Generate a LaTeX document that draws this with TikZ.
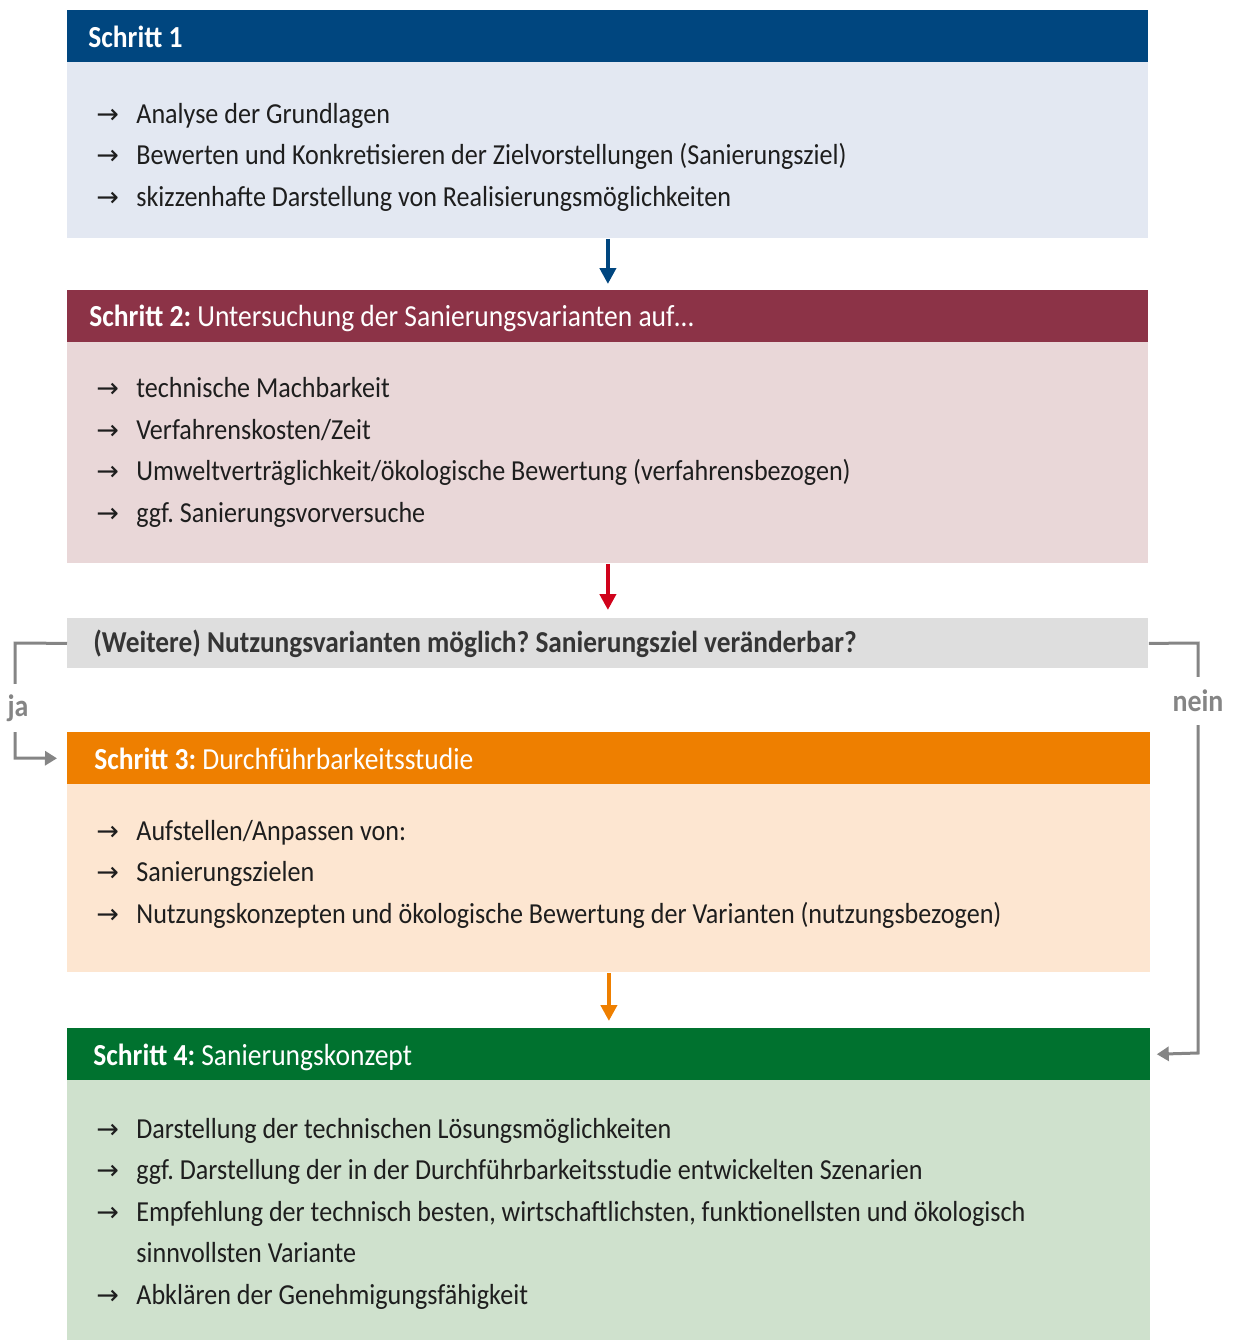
\documentclass[tikz,border=0pt]{standalone}
\usepackage{fontspec}
\setmainfont{Carlito}[FakeStretch=0.9]
\newfontfamily\arrowfont{DejaVu Sans}
\usetikzlibrary{arrows.meta}
\definecolor{blue_head}{HTML}{00467F}
\definecolor{blue_body}{HTML}{E3E8F2}
\definecolor{red_head}{HTML}{8C3347}
\definecolor{red_body}{HTML}{E9D7D8}
\definecolor{grey_bar}{HTML}{DEDEDE}
\definecolor{orange_head}{HTML}{EE7F00}
\definecolor{orange_body}{HTML}{FDE6D1}
\definecolor{green_head}{HTML}{00722F}
\definecolor{green_body}{HTML}{CFE1CD}
\definecolor{red_arrow}{HTML}{D0021B}
\definecolor{conn_grey}{HTML}{858585}
\definecolor{txt}{HTML}{1E1E1E}
\frenchspacing

\begin{document}
\begin{tikzpicture}[x=0.5pt, y=-0.5pt,
	box/.style={anchor=north west, inner sep=0pt, minimum width=540.5pt},
	head/.style={box, minimum height=26pt},
	headtext/.style={anchor=base west, inner sep=0pt, text=white, font=\fontsize{15.3}{18}\selectfont},
	item/.style={anchor=base west, inner sep=0pt, text=txt, font=\fontsize{14.5}{18}\selectfont},
	bullet/.style={item, font=\arrowfont\fontsize{13.5}{14}\selectfont},
	flow/.style={line width=2pt, -{Triangle[width=8pt, length=8pt]}},
	conn/.style={conn_grey, line width=1.5pt, -{Triangle[width=7pt, length=6pt]}},
	answer/.style={fill=white, text=conn_grey, inner sep=1pt, minimum height=24pt, font=\bfseries\fontsize{15.5}{18}\selectfont}]
	\useasboundingbox (0, 0) rectangle (1239, 1340);
	% Schritt 1
	\node[head, fill=blue_head] (h1) at (67, 10) {};
	\node[box, fill=blue_body, minimum height=88pt] (b1) at (67, 62) {};
	\node[headtext] (t1) at (88, 47) {\bfseries Schritt 1};
	\node[bullet] (p11) at (96, 123) {→};
	\node[item] (i11) at (136, 123) {Analyse der Grundlagen};
	\node[bullet] (p12) at (96, 164) {→};
	\node[item] (i12) at (136, 164) {Bewerten und Konkretisieren der Zielvorstellungen (Sanierungsziel)};
	\node[bullet] (p13) at (96, 206) {→};
	\node[item] (i13) at (136, 206) {skizzenhafte Darstellung von Realisierungsmöglichkeiten};
	% Schritt 2
	\node[head, fill=red_head] (h2) at (67, 290) {};
	\node[box, fill=red_body, minimum height=110.5pt] (b2) at (67, 342) {};
	\node[headtext] (t2) at (89, 326) {\textbf{Schritt 2:} Untersuchung der Sanierungsvarianten auf\dots};
	\node[bullet] (p21) at (96, 397) {→};
	\node[item] (i21) at (136, 397) {technische Machbarkeit};
	\node[bullet] (p22) at (96, 439) {→};
	\node[item] (i22) at (136, 439) {Verfahrenskosten/Zeit};
	\node[bullet] (p23) at (96, 480) {→};
	\node[item] (i23) at (136, 480) {Umweltverträglichkeit/ökologische Bewertung (verfahrensbezogen)};
	\node[bullet] (p24) at (96, 522) {→};
	\node[item] (i24) at (136, 522) {ggf. Sanierungsvorversuche};
	% Frage
	\node[box, fill=grey_bar, minimum height=25pt] (q) at (67, 618) {};
	\node[item, font=\bfseries\fontsize{15.2}{18}\selectfont, text=txt!90] (qt) at (93, 652) {(Weitere) Nutzungsvarianten möglich? Sanierungsziel veränderbar?};
	% Schritt 3
	\node[head, fill=orange_head, minimum width=541.5pt] (h3) at (67, 732) {};
	\node[box, fill=orange_body, minimum width=541.5pt, minimum height=94pt] (b3) at (67, 784) {};
	\node[headtext] (t3) at (94, 769) {\textbf{Schritt 3:} Durchführbarkeitsstudie};
	\node[bullet] (p31) at (96, 840) {→};
	\node[item] (i31) at (136, 840) {Aufstellen/Anpassen von:};
	\node[bullet] (p32) at (96, 881) {→};
	\node[item] (i32) at (136, 881) {Sanierungszielen};
	\node[bullet] (p33) at (96, 923) {→};
	\node[item] (i33) at (136, 923) {Nutzungskonzepten und ökologische Bewertung der Varianten (nutzungsbezogen)};
	% Schritt 4
	\node[head, fill=green_head, minimum width=541.5pt] (h4) at (67, 1028) {};
	\node[box, fill=green_body, minimum width=541.5pt, minimum height=130pt] (b4) at (67, 1080) {};
	\node[headtext] (t4) at (93, 1065) {\textbf{Schritt 4:} Sanierungskonzept};
	\node[bullet] (p41) at (96, 1138) {→};
	\node[item] (i41) at (136, 1138) {Darstellung der technischen Lösungsmöglichkeiten};
	\node[bullet] (p42) at (96, 1179) {→};
	\node[item] (i42) at (136, 1179) {ggf. Darstellung der in der Durchführbarkeitsstudie entwickelten Szenarien};
	\node[bullet] (p43) at (96, 1221) {→};
	\node[item] (i43) at (136, 1221) {Empfehlung der technisch besten, wirtschaftlichsten, funktionellsten und ökologisch};
	\node[item] (i44) at (136, 1262) {sinnvollsten Variante};
	\node[bullet] (p45) at (96, 1304) {→};
	\node[item] (i45) at (136, 1304) {Abklären der Genehmigungsfähigkeit};
	% Pfeile
	\draw[flow, blue_head, shorten >=3pt] (b1.south) -- (h2.north);
	\draw[flow, red_arrow, shorten >=4pt] (b2.south) -- (q.north);
	\draw[flow, orange_head, shorten >=3.5pt] (b3.south) -- (h4.north);
	\coordinate (ja1) at (15, 643);
	\coordinate (ja2) at (15, 758);
	\draw[conn, shorten >=5pt] (q.west) -- (ja1) -- (ja2) -- (h3.west);
	\node[answer] (ja) at (18, 708) {ja};
	\coordinate (nein1) at (1198, 643);
	\coordinate (nein2) at (1198, 1053);
	\draw[conn, shorten >=3pt] (q.east) -- (nein1) -- (nein2) -- (h4.east);
	\node[answer] (nein) at (1198, 701) {nein};
\end{tikzpicture}
\end{document}
